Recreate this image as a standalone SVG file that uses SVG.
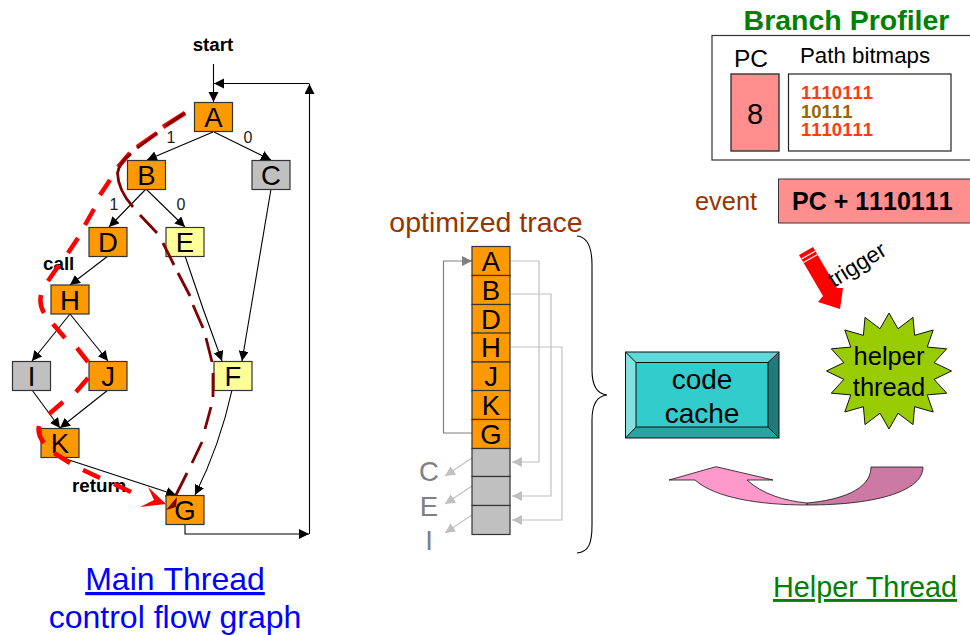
<svg xmlns="http://www.w3.org/2000/svg" width="970" height="635" viewBox="0 0 970 635">
<style>
text{font-family:"Liberation Sans",Arial,sans-serif;fill:#000;font-kerning:none}
.nt{font-size:27.500px;text-anchor:middle}
.b{font-weight:bold}
.m{text-anchor:middle}
.box{stroke:#333;stroke-width:1.2}
.o{fill:#ff9900}.g{fill:#c0c0c0}.y{fill:#ffff99}
.e{fill:none;stroke:#000;stroke-width:1.1;marker-end:url(#ah)}
.s{font-size:16px;text-anchor:middle;fill:#222}
.gl{fill:none;stroke:#c0c0c0;stroke-width:1.2;marker-end:url(#lg)}
.dim{font-size:27.500px;text-anchor:middle;fill:#808080}
.red{fill:none;stroke:#ff0000;stroke-width:4.500}
.dark{fill:none;stroke:#800000;stroke-width:2.800}
</style>
<defs>
<marker id="ah" markerUnits="userSpaceOnUse" markerWidth="12" markerHeight="12" refX="10" refY="5" orient="auto"><path d="M0,0L10,5L0,10Z" fill="#000"/></marker>
<marker id="lg" markerUnits="userSpaceOnUse" markerWidth="12" markerHeight="12" refX="10" refY="5" orient="auto"><path d="M0,0L10,5L0,10Z" fill="#c0c0c0"/></marker>
<marker id="dg" markerUnits="userSpaceOnUse" markerWidth="12" markerHeight="12" refX="10" refY="5" orient="auto"><path d="M0,0L10,5L0,10Z" fill="#808080"/></marker>
</defs>
<text x="213" y="51" class="b m" font-size="18.800">start</text>
<g id="connectors">
<path class="e" d="M213.500,64V102"/>
<path class="e" d="M185,524V534H309"/>
<path class="e" d="M309.500,534V84"/>
<path class="e" d="M309.500,83.500H214"/>
<path class="e" d="M213,132L147,160"/>
<path class="e" d="M214,132L271,160"/>
<path class="e" d="M146,189L109,227"/>
<path class="e" d="M146,189L185,227"/>
<path class="e" d="M108,256L70,285"/>
<path class="e" d="M70,314L32,361"/>
<path class="e" d="M70,314L108,361"/>
<path class="e" d="M185,256Q203,310 222,361"/>
<path class="e" d="M271,189L242,361"/>
<path class="e" d="M32,390L60,428"/>
<path class="e" d="M108,390L60,428"/>
<path class="e" d="M60,457L176,495"/>
<path class="e" d="M232,390Q220,445 195,495"/>
<path class="gl" d="M510.500,261H539V462H512"/>
<path class="gl" d="M510.500,294H551V496H512"/>
<path class="gl" d="M510.500,347H562V520H512"/>
<path fill="none" stroke="#808080" stroke-width="1.2" marker-end="url(#dg)" d="M472,433H443.500V261H472"/>
<path class="gl" d="M472,458L445,476"/>
<path class="gl" d="M472,486L445,504"/>
<path class="gl" d="M472,515L445,533"/>
</g>
<g id="edge-labels">
<text x="171" y="143" class="s">1</text>
<text x="248" y="143" class="s">0</text>
<text x="114" y="210" class="s">1</text>
<text x="181" y="210" class="s">0</text>
<text x="43" y="270" class="b" font-size="18.800">call</text>
<text x="72" y="492" class="b" font-size="18.800">return</text>
</g>
<g id="node-A"><rect class="box o" x="194.500" y="102.500" width="38" height="29"/><text class="nt" x="213.500" y="127">A</text></g>
<g id="node-B"><rect class="box o" x="127.500" y="160.500" width="38" height="29"/><text class="nt" x="146.500" y="185">B</text></g>
<g id="node-C"><rect class="box g" x="252" y="160.500" width="38" height="29"/><text class="nt" x="271" y="185">C</text></g>
<g id="node-D"><rect class="box o" x="89" y="227.500" width="38" height="29"/><text class="nt" x="108" y="252">D</text></g>
<g id="node-E"><rect class="box y" x="166" y="227.500" width="38" height="29"/><text class="nt" x="185" y="252">E</text></g>
<g id="node-H"><rect class="box o" x="51" y="285" width="38" height="29"/><text class="nt" x="70" y="309.500">H</text></g>
<g id="node-I"><rect class="box g" x="12.500" y="361.500" width="38" height="29"/><text class="nt" x="31.500" y="386">I</text></g>
<g id="node-J"><rect class="box o" x="89" y="361.500" width="38" height="29"/><text class="nt" x="108" y="386">J</text></g>
<g id="node-F"><rect class="box y" x="214" y="361.500" width="38" height="29"/><text class="nt" x="233" y="386">F</text></g>
<g id="node-K"><rect class="box o" x="41" y="428.500" width="38" height="29"/><text class="nt" x="60" y="453">K</text></g>
<g id="node-G"><rect class="box o" x="166" y="495.500" width="38" height="29"/><text class="nt" x="185" y="520">G</text></g>
<g id="paths">
<path class="red" d="M185,113L163,127M157,133L137,147M130,153L118,167M110,180L100,195M94,209L85,225M78,238L68,253M59,265L48,281M41,295Q39,304 44,313M53,324L65,338M77,348L88,362M88,378L76,392M63,402L49,414M39,426Q37,434 44,443M54,453L70,463M83,470L100,478M114,484L131,492"/>
<path d="M166,504L148,487L154,500L140,507Z" fill="#ff0000"/>
<path class="dark" d="M185,113L165,126M157,133L137,148M131,154Q120,161 117.500,173Q118,190 133,207M140,215L157,233M163,243L174,265M178,273L190,296M193,305L203,328M206,338L212,362M213,373L213,397M211,407L205,429M202,442L192,463M187,473L176,495"/>
<path d="M166,510L177,497L176,507Z" fill="#800000"/>
</g>
<g id="trace">
<g class="box">
<rect class="o" x="472" y="246.500" width="38" height="29"/>
<rect class="o" x="472" y="275.500" width="38" height="29"/>
<rect class="o" x="472" y="304.500" width="38" height="29"/>
<rect class="o" x="472" y="333" width="38" height="29"/>
<rect class="o" x="472" y="362" width="38" height="29"/>
<rect class="o" x="472" y="390.500" width="38" height="29"/>
<rect class="o" x="472" y="419.500" width="38" height="29"/>
<rect class="g" x="472" y="448.500" width="38" height="28"/>
<rect class="g" x="472" y="476.500" width="38" height="29"/>
<rect class="g" x="472" y="505.500" width="38" height="29"/>
</g>
<text class="nt" x="491" y="271">A</text>
<text class="nt" x="491" y="300">B</text>
<text class="nt" x="491" y="328.500">D</text>
<text class="nt" x="491" y="357">H</text>
<text class="nt" x="491" y="386">J</text>
<text class="nt" x="491" y="415">K</text>
<text class="nt" x="491" y="443.500">G</text>
</g>
<text class="dim" x="429" y="481">C</text>
<text class="dim" x="429" y="516">E</text>
<text class="dim" x="429" y="550">I</text>
<text x="486" y="232" class="m" font-size="28.500" style="fill:#993300">optimized trace</text>
<path id="brace" fill="none" stroke="#000" stroke-width="1.1" d="M577,236C589,237 592,250 592,265V370C592,385 597,394 607,395C597,396 592,405 592,420V525C592,543 589,552 577,553"/>
<g id="code-cache">
<rect x="625.500" y="352" width="153.500" height="86" fill="#33cccc"/>
<path d="M625.500,352H779L768,362.500H636Z" fill="#5cd9d9"/>
<path d="M625.500,352L636,362.500V427L625.500,438Z" fill="#85e0e0"/>
<path d="M779,352L768,362.500V427L779,438Z" fill="#1f7a7a"/>
<path d="M625.500,438L636,427H768L779,438Z" fill="#29a3a3"/>
<g fill="none" stroke="#111" stroke-width="1"><rect x="625.500" y="352" width="153.500" height="86"/><rect x="636" y="362.500" width="132" height="64.500"/><path d="M625.500,352L636,362.500M779,352L768,362.500M625.500,438L636,427M779,438L768,427"/></g>
<text x="702" y="389" class="m" font-size="28">code</text>
<text x="702" y="423" class="m" font-size="28">cache</text>
</g>
<g id="helper-thread">
<polygon fill="#99cc00" stroke="#111" stroke-width="1" points="889,313 898,328.800 913,317.400 914.600,335.300 933.200,330 927.200,347.100 946.700,348.800 934.100,362.600 951.500,371 934.100,379.400 946.700,393.200 927.200,394.900 933.200,412 914.600,406.700 913,424.600 898,413.200 889,429 880,413.200 865,424.600 863.400,406.700 844.800,412 850.800,394.900 831.300,393.200 843.900,379.400 826.500,371 843.900,362.600 831.300,348.800 850.800,347.100 844.800,330 863.400,335.300 865,317.400 880,328.800"/>
<text x="889" y="365" class="m" font-size="25.500">helper</text>
<text x="889" y="396" class="m" font-size="25.500">thread</text>
</g>
<g id="curved-arrow" stroke="#111" stroke-width="0.8">
<path d="M807,503C840,500 871,490 871,467H923C923,490 880,505 807,505Z" fill="#cc79a3"/>
<path d="M669,480L716,466.700L773,480H747C762,494 785,501 807,503V505C760,505 715,498 695,480Z" fill="#ff99cc"/>
</g>
<text x="846.500" y="30" class="b m" font-size="28.500" style="fill:#008000">Branch Profiler</text>
<g id="branch-profiler">
<rect x="712" y="35.500" width="262" height="124.500" fill="#fff" stroke="#333" stroke-width="1.2"/>
<text x="751" y="67" class="m" font-size="24.500">PC</text>
<text x="800" y="63" font-size="22.300">Path bitmaps</text>
<rect x="731" y="74" width="48" height="77" fill="#ff8f8f" stroke="#333" stroke-width="1.4"/>
<text x="755" y="124" class="m" font-size="29">8</text>
<rect x="788.500" y="74" width="162.500" height="77" fill="#fff" stroke="#222" stroke-width="1.2"/>
<text x="801" y="99" class="b" font-size="18.500" style="fill:#ff3c0f">1110111</text>
<text x="801" y="118" class="b" font-size="18.500" style="fill:#996600">10111</text>
<text x="801" y="136" class="b" font-size="18.500" style="fill:#ff3c0f">1110111</text>
</g>
<text x="695" y="210" font-size="25.400" style="fill:#993300">event</text>
<g id="event">
<rect x="778.500" y="179" width="196" height="44" fill="#ff8f8f" stroke="#333" stroke-width="1"/>
<text x="792" y="210" class="b" font-size="25">PC + 1110111</text>
</g>
<g id="trigger">
<path d="M799,255L813,247L837,288L843,288L840,309L818,302L823,296Z" fill="#ff0000"/>
<path d="M801.500,259L815.500,251M803.500,262.500L817.500,254.500" stroke="#fff" stroke-width="1.2" fill="none"/>
<text x="861" y="271" class="m" font-size="22.500" transform="rotate(-32 861 271)">trigger</text>
</g>
<text x="175" y="590" class="m" font-size="32" text-decoration="underline" style="fill:#0000ff">Main Thread</text>
<text x="175" y="628" class="m" font-size="32" style="fill:#0000ff">control flow graph</text>
<text x="865" y="597" class="m" font-size="28.800" text-decoration="underline" style="fill:#008000">Helper Thread</text>
</svg>
